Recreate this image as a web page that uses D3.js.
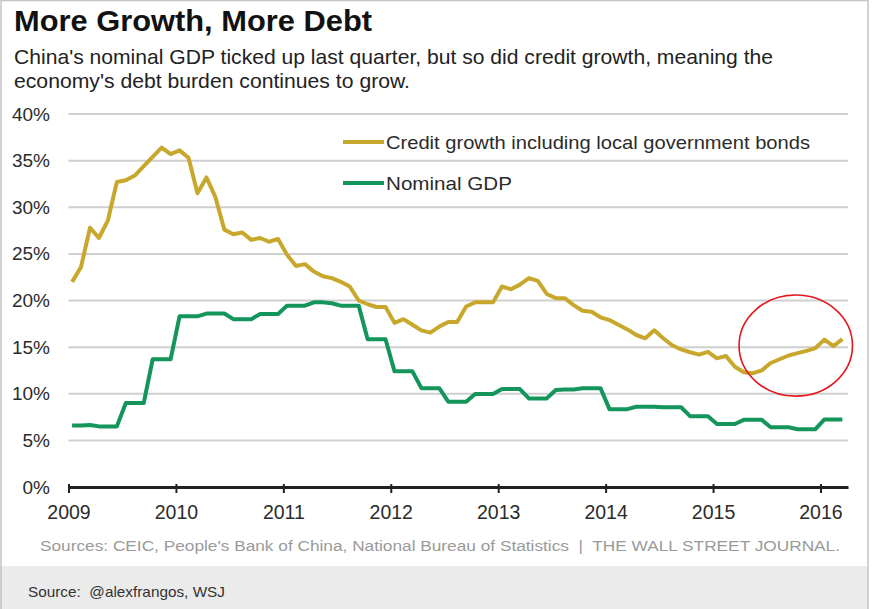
<!DOCTYPE html>
<html>
<head>
<meta charset="utf-8">
<script src="https://cdn.jsdelivr.net/npm/d3@7"></script>
<style>
  html, body { margin: 0; padding: 0; background: #fff; }
  svg { display: block; font-family: "Liberation Sans", Arial, sans-serif; }
</style>
</head>
<body>
<svg id="chart" width="872" height="609"></svg>
<script>
// ---------- DATA ----------
const startYear = 2009;           // monthly series, Jan 2009 .. Mar 2016
const creditGrowth = [
  22.0, 23.6, 27.8, 26.7, 28.6, 32.7, 32.9, 33.4, 34.4, 35.4, 36.4, 35.7,
  36.1, 35.3, 31.5, 33.2, 31.1, 27.6, 27.1, 27.3, 26.5, 26.7, 26.3, 26.6,
  24.9, 23.7, 23.9, 23.1, 22.6, 22.4, 22.0, 21.5, 20.0, 19.6, 19.3, 19.3,
  17.6, 18.0, 17.4, 16.8, 16.55, 17.2, 17.7, 17.7, 19.35, 19.8, 19.8, 19.8,
  21.5, 21.2, 21.7, 22.4, 22.1, 20.7, 20.25, 20.25, 19.5, 18.9, 18.8, 18.2,
  17.9, 17.4, 16.9, 16.3, 15.95, 16.8, 15.95, 15.2, 14.75, 14.45, 14.2, 14.5,
  13.8, 14.05, 12.9, 12.3, 12.2, 12.5, 13.3, 13.7, 14.1, 14.35, 14.6, 14.9,
  15.8, 15.1, 15.85
];
const nominalGDP = [
  6.6, 6.6, 6.65, 6.5, 6.5, 6.5, 9.0, 9.0, 9.0, 13.7, 13.7, 13.7,
  18.3, 18.3, 18.3, 18.6, 18.6, 18.6, 18.0, 18.0, 18.0, 18.56, 18.56, 18.56,
  19.45, 19.45, 19.45, 19.8, 19.8, 19.7, 19.45, 19.45, 19.45, 15.85, 15.85, 15.85,
  12.4, 12.4, 12.4, 10.6, 10.6, 10.6, 9.15, 9.15, 9.15, 9.98, 9.98, 9.98,
  10.5, 10.5, 10.5, 9.5, 9.5, 9.5, 10.4, 10.45, 10.45, 10.6, 10.6, 10.6,
  8.35, 8.35, 8.35, 8.6, 8.6, 8.6, 8.55, 8.55, 8.55, 7.6, 7.6, 7.6,
  6.75, 6.75, 6.75, 7.2, 7.2, 7.2, 6.4, 6.4, 6.4, 6.2, 6.2, 6.2,
  7.25, 7.25, 7.25
];
const seriesNames = ["Credit growth including local government bonds", "Nominal GDP"];
const xTickYears = [2009, 2010, 2011, 2012, 2013, 2014, 2015, 2016];
const yTickValues = [0, 5, 10, 15, 20, 25, 30, 35, 40];
// annotation ellipse (center year, center %, half-width in years, half-height in %)
const highlight = { year: 2015.77, value: 15.17, rYears: 0.528, rValue: 5.42 };

const titleText = "More Growth, More Debt";
const subtitleLines = [
  "China's nominal GDP ticked up last quarter, but so did credit growth, meaning the",
  "economy's debt burden continues to grow."
];
const sourcesText = "Sources: CEIC, People's Bank of China, National Bureau of Statistics  |  THE WALL STREET JOURNAL.";
const footerText = "Source:  @alexfrangos, WSJ";

// ---------- STYLE / LAYOUT ----------
const W = 872, H = 609;
const plot = { left: 68.5, right: 848, top: 114, bottom: 487 };
const colors = { credit: "#c8a82c", gdp: "#13955b", grid: "#cfcfcf", axis: "#222", text: "#2b2b2b", red: "#e4181c" };

const svg = d3.select("#chart");

// frame + footer band
svg.append("rect").attr("x", 0).attr("y", 566).attr("width", 868).attr("height", H - 566).attr("fill", "#ebebeb");
svg.append("rect").attr("x", 1).attr("y", 0.5).attr("width", 867).attr("height", H + 2)
  .attr("fill", "none").attr("stroke", "#c4c4c4").attr("stroke-width", 1.5);

// scales
const x = d3.scaleLinear().domain([2009, 2016.2563]).range([plot.left, plot.right]);
const y = d3.scaleLinear().domain([0, 40]).range([plot.bottom, plot.top]);
const monthYear = i => startYear + (i + 0.4) / 12 + i * 0.00004;

// title / subtitle
svg.append("text").attr("x", 14).attr("y", 31)
  .attr("font-size", 30).attr("font-weight", "bold").attr("fill", "#111")
  .attr("textLength", 358).attr("lengthAdjust", "spacingAndGlyphs")
  .text(titleText);
const subLens = [759, 396];
subtitleLines.forEach((t, i) => {
  svg.append("text").attr("x", 14).attr("y", 64 + i * 24)
    .attr("font-size", 21).attr("fill", "#222")
    .attr("textLength", subLens[i]).attr("lengthAdjust", "spacingAndGlyphs")
    .text(t);
});

// gridlines
svg.append("g").selectAll("line").data(yTickValues.filter(v => v > 0)).join("line")
  .attr("x1", plot.left).attr("x2", plot.right)
  .attr("y1", d => y(d)).attr("y2", d => y(d))
  .attr("stroke", colors.grid).attr("stroke-width", 2);

// y labels
const yAxis = d3.axisLeft(y).tickValues(yTickValues).tickSize(0).tickPadding(0).tickFormat(d => d + "%");
const gy = svg.append("g").attr("transform", "translate(50,0)").call(yAxis);
gy.select(".domain").remove();
gy.selectAll("text").attr("font-size", 19).attr("fill", colors.text).attr("font-family", "Liberation Sans, Arial, sans-serif");

// x axis
const xAxis = d3.axisBottom(x).tickValues(xTickYears).tickFormat(d3.format("d")).tickSize(6).tickPadding(12).tickSizeOuter(0);
const gx = svg.append("g").attr("transform", `translate(0,${plot.bottom})`).call(xAxis);
gx.select(".domain").attr("stroke", colors.axis).attr("stroke-width", 3);
gx.selectAll(".tick line").attr("stroke", colors.axis).attr("stroke-width", 2).attr("y1", -3);
gx.selectAll("text").attr("font-size", 19.5).attr("fill", colors.text).attr("font-family", "Liberation Sans, Arial, sans-serif");

// lines
const line = d3.line().x((d, i) => x(monthYear(i))).y(d => y(d)).curve(d3.curveLinear);
svg.append("path").datum(nominalGDP).attr("d", line)
  .attr("fill", "none").attr("stroke", colors.gdp).attr("stroke-width", 4).attr("stroke-linejoin", "round");
svg.append("path").datum(creditGrowth).attr("d", line)
  .attr("fill", "none").attr("stroke", colors.credit).attr("stroke-width", 4).attr("stroke-linejoin", "round");

// legend
const legend = [
  { name: seriesNames[0], color: colors.credit, y: 142, len: 424 },
  { name: seriesNames[1], color: colors.gdp, y: 183, len: 126 }
];
const lg = svg.append("g");
legend.forEach(l => {
  lg.append("line").attr("x1", 343).attr("x2", 384).attr("y1", l.y).attr("y2", l.y)
    .attr("stroke", l.color).attr("stroke-width", 4);
  lg.append("text").attr("x", 386).attr("y", l.y + 6.5).attr("font-size", 18.5).attr("fill", colors.text)
    .attr("textLength", l.len).attr("lengthAdjust", "spacingAndGlyphs").text(l.name);
});

// highlight ellipse
svg.append("ellipse")
  .attr("cx", x(highlight.year)).attr("cy", y(highlight.value))
  .attr("rx", x(highlight.year + highlight.rYears) - x(highlight.year))
  .attr("ry", y(highlight.value - highlight.rValue) - y(highlight.value))
  .attr("fill", "none").attr("stroke", colors.red).attr("stroke-width", 1.6);

// sources
svg.append("text").attr("x", 40).attr("y", 551).attr("font-size", 15.5).attr("fill", "#9a9a9a")
  .attr("textLength", 800).attr("lengthAdjust", "spacingAndGlyphs")
  .style("white-space", "pre").text(sourcesText);
svg.append("text").attr("x", 28).attr("y", 597).attr("font-size", 15).attr("fill", "#333")
  .attr("textLength", 197).attr("lengthAdjust", "spacingAndGlyphs")
  .style("white-space", "pre").text(footerText);
</script>
</body>
</html>
